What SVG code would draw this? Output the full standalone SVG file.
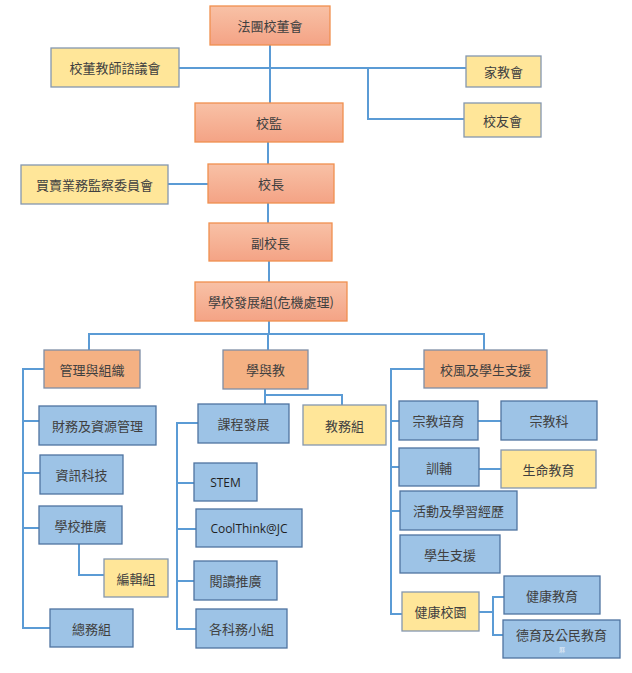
<svg xmlns="http://www.w3.org/2000/svg" width="632" height="673" viewBox="0 0 632 673">
<defs>
<linearGradient id="og" x1="0" y1="0" x2="0" y2="1">
<stop offset="0" stop-color="#f8c1a6"/>
<stop offset="1" stop-color="#f4a385"/>
</linearGradient>
<style>
.top{fill:url(#og);stroke:#f0904f;stroke-width:1.3}
.mid{fill:#f4b183;stroke:#7f8ea6;stroke-width:1.3}
.yel{fill:#ffe699;stroke:#8497b0;stroke-width:1.3}
.blu{fill:#9dc3e6;stroke:#4f73a0;stroke-width:1.3}
text{font-family:"Noto Sans CJK TC","Noto Sans CJK SC",sans-serif;font-size:13px;fill:#404040;text-anchor:middle;dominant-baseline:central}
.lat{font-family:"Open Sans","Noto Sans",sans-serif;font-size:12px;fill:#1f1f1f}
.tiny{font-size:6px;fill:#e8eef7}
.ln{fill:none;stroke:#5b9bd5;stroke-width:2}
</style>
</defs>
<rect width="632" height="673" fill="#ffffff"/>
<g id="connectors" class="ln">
<path d="M270,45 V103"/>
<path d="M179,68 H466"/>
<path d="M368,68 V119 H464"/>
<path d="M268,142 V164"/>
<path d="M268,203 V223"/>
<path d="M168,184 H208"/>
<path d="M269,261 V282"/>
<path d="M269,321 V334"/>
<path d="M89,350 V334 H484 V350"/>
<path d="M268,334 V350"/>
<path d="M265,389 V404"/>
<path d="M265,395 H342 V405"/>
<path d="M44,369 H23 V628 H50"/>
<path d="M23,421 H39 M23,473 H40 M23,528 H39"/>
<path d="M79,544 V575 H104"/>
<path d="M198,423 H177 V629 H196"/>
<path d="M177,483 H194 M177,529 H196 M177,581 H194"/>
<path d="M424,369 H391 V614 H402"/>
<path d="M391,421 H399 M391,467 H399 M391,511 H400"/>
<path d="M478,421 H501"/>
<path d="M479,469 H501"/>
<path d="M479,612 H493"/>
<path d="M504,597 H493 V635 H503"/>
</g>
<g id="n1"><rect class="top" x="210" y="6" width="120" height="39"/><text x="270" y="25.5">法團校董會</text></g>
<g id="n2"><rect class="yel" x="51" y="48" width="128" height="39"/><text x="115" y="67.5">校董教師諮議會</text></g>
<g id="n3"><rect class="yel" x="466" y="56" width="75" height="31"/><text x="503.5" y="71.5">家教會</text></g>
<g id="n4"><rect class="yel" x="464" y="103" width="77" height="34"/><text x="502.5" y="120">校友會</text></g>
<g id="n5"><rect class="top" x="195" y="103" width="148" height="39"/><text x="269" y="122.5">校監</text></g>
<g id="n6"><rect class="top" x="208" y="164" width="126" height="39"/><text x="271" y="183.5">校長</text></g>
<g id="n7"><rect class="yel" x="21" y="165" width="147" height="39"/><text x="94.5" y="184.5">買賣業務監察委員會</text></g>
<g id="n8"><rect class="top" x="209" y="223" width="123" height="38"/><text x="270.5" y="242">副校長</text></g>
<g id="n9"><rect class="top" x="195" y="282" width="152" height="39"/><text x="271" y="301.5">學校發展組(危機處理)</text></g>
<g id="n10"><rect class="mid" x="44" y="350" width="96" height="38"/><text x="92" y="369">管理與組織</text></g>
<g id="n11"><rect class="mid" x="223" y="350" width="85" height="39"/><text x="265.5" y="369.5">學與教</text></g>
<g id="n12"><rect class="mid" x="424" y="350" width="123" height="38"/><text x="485.5" y="369">校風及學生支援</text></g>
<g id="n13"><rect class="blu" x="39" y="406" width="117" height="39"/><text x="97.5" y="425.5">財務及資源管理</text></g>
<g id="n14"><rect class="blu" x="40" y="455" width="83" height="39"/><text x="81.5" y="474.5">資訊科技</text></g>
<g id="n15"><rect class="blu" x="39" y="506" width="83" height="38"/><text x="80.5" y="525">學校推廣</text></g>
<g id="n16"><rect class="yel" x="104" y="559" width="64" height="38"/><text x="136" y="578">編輯組</text></g>
<g id="n17"><rect class="blu" x="50" y="609" width="83" height="38"/><text x="91.5" y="628">總務組</text></g>
<g id="n18"><rect class="blu" x="198" y="404" width="91" height="39"/><text x="243.5" y="423.5">課程發展</text></g>
<g id="n19"><rect class="yel" x="303" y="405" width="83" height="40"/><text x="344.5" y="425">教務組</text></g>
<g id="n20"><rect class="blu" x="194" y="463" width="63" height="38"/><text class="lat" x="225.5" y="482">STEM</text></g>
<g id="n21"><rect class="blu" x="196" y="509" width="106" height="38"/><text class="lat" x="249" y="528">CoolThink@JC</text></g>
<g id="n22"><rect class="blu" x="194" y="561" width="83" height="39"/><text x="235.5" y="580.5">閱讀推廣</text></g>
<g id="n23"><rect class="blu" x="196" y="609" width="91" height="39"/><text x="241.5" y="628.5">各科務小組</text></g>
<g id="n24"><rect class="blu" x="399" y="401" width="79" height="39"/><text x="438.5" y="420.5">宗教培育</text></g>
<g id="n25"><rect class="blu" x="501" y="401" width="96" height="39"/><text x="549" y="420.5">宗教科</text></g>
<g id="n26"><rect class="blu" x="399" y="448" width="80" height="38"/><text x="439" y="467">訓輔</text></g>
<g id="n27"><rect class="yel" x="501" y="450" width="95" height="38"/><text x="548.5" y="469">生命教育</text></g>
<g id="n28"><rect class="blu" x="400" y="491" width="117" height="39"/><text x="458.5" y="510.5">活動及學習經歷</text></g>
<g id="n29"><rect class="blu" x="400" y="535" width="100" height="38"/><text x="450" y="554">學生支援</text></g>
<g id="n30"><rect class="yel" x="402" y="592" width="77" height="39"/><text x="440.5" y="611.5">健康校園</text></g>
<g id="n31"><rect class="blu" x="504" y="576" width="96" height="38"/><text x="552" y="595">健康教育</text></g>
<g id="n32"><rect class="blu" x="503" y="620" width="117" height="38"/><text x="561.5" y="634">德育及公民教育</text><text class="tiny" x="562" y="649">厤</text></g>
</svg>
